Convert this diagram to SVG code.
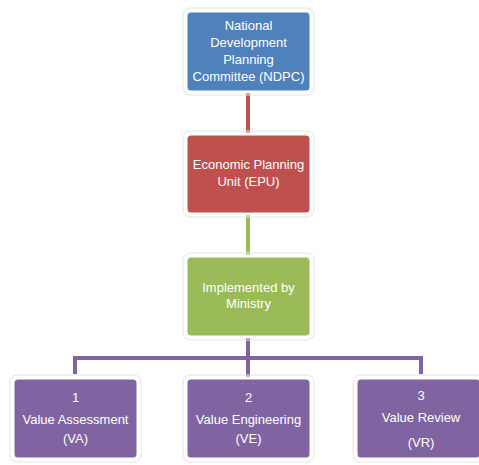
<svg xmlns="http://www.w3.org/2000/svg" width="479" height="465" viewBox="0 0 479 465">
<style>
.box{stroke:#ffffff;stroke-width:3}
.halo{fill:none;stroke:#e4e4e4;stroke-width:1}
.t{font-family:"Liberation Sans",Arial,sans-serif;font-size:13px;fill:#ffffff;text-anchor:middle}
.c{fill:none;stroke-width:4}
</style>
<rect width="479" height="465" fill="#ffffff"/>
<g id="connectors">
<line class="c" x1="248" y1="92" x2="248" y2="134" stroke="#C0504D"/>
<line class="c" x1="248" y1="214" x2="248" y2="256" stroke="#9BBB59"/>
<path class="c" d="M248 337 V358 M75 374 V358 H421 V374 M248 358 V378" stroke="#8064A2"/>
</g>
<g id="ndpc">
<rect class="halo" x="183" y="8" width="131" height="87" rx="7"/>
<rect class="box" x="186" y="11" width="125" height="81" rx="5" fill="#4F81BD"/>
<text class="t" x="248.5" y="30">National</text>
<text class="t" x="248.5" y="47">Development</text>
<text class="t" x="248.5" y="64">Planning</text>
<text class="t" x="248.5" y="81">Committee (NDPC)</text>
</g>
<g id="epu">
<rect class="halo" x="183" y="131" width="131" height="86" rx="7"/>
<rect class="box" x="186" y="134" width="125" height="80" rx="5" fill="#C0504D"/>
<text class="t" x="248.5" y="169">Economic Planning</text>
<text class="t" x="248.5" y="186">Unit (EPU)</text>
</g>
<g id="ministry">
<rect class="halo" x="183" y="253" width="131" height="87" rx="7"/>
<rect class="box" x="186" y="256" width="125" height="81" rx="5" fill="#9BBB59"/>
<text class="t" x="248.5" y="292">Implemented by</text>
<text class="t" x="248.5" y="308">Ministry</text>
</g>
<g id="va">
<rect class="halo" x="10" y="375" width="131" height="87" rx="7"/>
<rect class="box" x="13" y="378" width="125" height="81" rx="5" fill="#8064A2"/>
<text class="t" x="75.5" y="402">1</text>
<text class="t" x="75.5" y="424">Value Assessment</text>
<text class="t" x="75.5" y="443">(VA)</text>
</g>
<g id="ve">
<rect class="halo" x="183" y="375" width="131" height="87" rx="7"/>
<rect class="box" x="186" y="378" width="125" height="81" rx="5" fill="#8064A2"/>
<text class="t" x="248.5" y="402">2</text>
<text class="t" x="248.5" y="424">Value Engineering</text>
<text class="t" x="248.5" y="443">(VE)</text>
</g>
<g id="vr">
<rect class="halo" x="353" y="375" width="131" height="87" rx="7"/>
<rect class="box" x="356" y="378" width="125" height="81" rx="5" fill="#8064A2"/>
<text class="t" x="421" y="400">3</text>
<text class="t" x="421" y="422">Value Review</text>
<text class="t" x="421" y="447">(VR)</text>
</g>
</svg>
